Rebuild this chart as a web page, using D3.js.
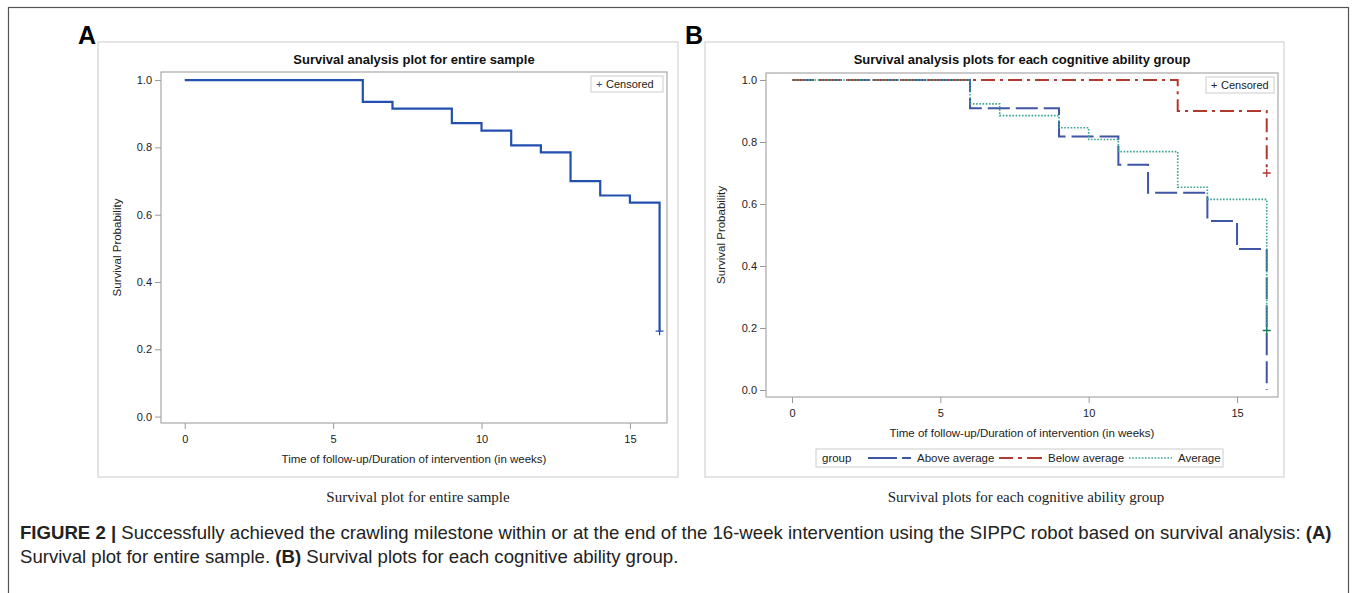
<!DOCTYPE html>
<html>
<head>
<meta charset="utf-8">
<script src="https://cdn.jsdelivr.net/npm/d3@7"></script>
<style>
  body { margin: 0; background: #fff; }
  svg text { font-family: "Liberation Sans", Arial, sans-serif; }
</style>
</head>
<body>
<div id="fig"></div>
<script>
// Panel A: entire sample (Kaplan-Meier steps)
const timesA = [0, 6, 7, 9, 10, 11, 12, 13, 14, 15, 16];
const survA = [1.0, 0.935, 0.915, 0.872, 0.85, 0.806, 0.785, 0.7, 0.657, 0.636, 0.254];
const censorA = [{ t: 16, s: 0.254 }];

// Panel B: per cognitive ability group
const groups = ["Above average", "Below average", "Average"];
const timesAbove = [0, 6, 9, 11, 12, 14, 15, 16];
const survAbove = [1.0, 0.909, 0.818, 0.727, 0.636, 0.545, 0.455, 0.0];
const timesBelow = [0, 13, 16];
const survBelow = [1.0, 0.9, 0.7];
const timesAvg = [0, 6, 7, 9, 10, 11, 13, 14, 16];
const survAvg = [1.0, 0.923, 0.885, 0.846, 0.808, 0.769, 0.654, 0.615, 0.192];
const censorB = [
  { g: "Below average", t: 16, s: 0.7 },
  { g: "Average", t: 16, s: 0.192 },
];

const xTicks = [0, 5, 10, 15];
const yTicks = [0, 0.2, 0.4, 0.6, 0.8, 1.0];

const W = 1357, H = 593;
const svg = d3.select("#fig").append("svg").attr("width", W).attr("height", H);

// outer figure border
svg.append("rect")
  .attr("x", 8.5).attr("y", 7.5).attr("width", 1340).attr("height", 620)
  .attr("fill", "none").attr("stroke", "#555").attr("stroke-width", 1.2);

function zip(ts, ss) {
  return ts.map((t, i) => ({ t: t, s: ss[i] }));
}

function drawPanel(cfg) {
  const g = svg.append("g");

  // panel frame
  g.append("rect")
    .attr("x", cfg.frame[0]).attr("y", cfg.frame[1])
    .attr("width", cfg.frame[2] - cfg.frame[0]).attr("height", cfg.frame[3] - cfg.frame[1])
    .attr("fill", "#fff").attr("stroke", "#dcdcdc").attr("stroke-width", 1.5);

  // panel letter
  g.append("text")
    .attr("x", cfg.frame[0] - 20).attr("y", cfg.frame[1] + 2)
    .style("font-size", "25px").style("font-weight", "bold").attr("fill", "#000")
    .text(cfg.letter);

  const x = d3.scaleLinear().domain(cfg.xDomain).range([cfg.plot[0], cfg.plot[2]]);
  const y = d3.scaleLinear().domain(cfg.yDomain).range([cfg.plot[3], cfg.plot[1]]);

  // title
  g.append("text")
    .attr("x", (cfg.plot[0] + cfg.plot[2]) / 2).attr("y", cfg.frame[1] + 22)
    .attr("text-anchor", "middle")
    .style("font-size", "13px").style("font-weight", "bold").attr("fill", "#111")
    .text(cfg.title);

  // axes
  const xAxis = g.append("g")
    .attr("transform", `translate(0, ${cfg.plot[3]})`)
    .call(d3.axisBottom(x).tickValues(xTicks).tickSize(6).tickPadding(6).tickFormat(d3.format("d")));
  const yAxis = g.append("g")
    .attr("transform", `translate(${cfg.plot[0]}, 0)`)
    .call(d3.axisLeft(y).tickValues(yTicks).tickSize(6).tickPadding(3).tickFormat(d3.format(".1f")));
  [xAxis, yAxis].forEach((a) => {
    a.select(".domain").remove();
    a.selectAll(".tick line").attr("stroke", "#999");
    a.selectAll(".tick text").attr("fill", "#222").style("font-size", "11px")
      .style("font-family", "'Liberation Sans', Arial, sans-serif");
  });

  // plot frame
  g.append("rect")
    .attr("x", cfg.plot[0]).attr("y", cfg.plot[1])
    .attr("width", cfg.plot[2] - cfg.plot[0]).attr("height", cfg.plot[3] - cfg.plot[1])
    .attr("fill", "none").attr("stroke", "#a8a8a8").attr("stroke-width", 1.2);

  // axis titles
  g.append("text")
    .attr("x", (cfg.plot[0] + cfg.plot[2]) / 2).attr("y", cfg.xTitleY)
    .attr("text-anchor", "middle").style("font-size", "11.5px").attr("fill", "#222")
    .text("Time of follow-up/Duration of intervention (in weeks)");
  g.append("text")
    .attr("transform", `translate(${cfg.yTitleX}, ${(cfg.plot[1] + cfg.plot[3]) / 2}) rotate(-90)`)
    .attr("text-anchor", "middle").style("font-size", "11.5px").attr("fill", "#222")
    .text("Survival Probability");

  // step curves
  const line = d3.line().x((d) => x(d.t)).y((d) => y(d.s)).curve(d3.curveStepAfter);
  cfg.series.forEach((s) => {
    g.append("path")
      .datum(s.data)
      .attr("fill", "none")
      .attr("stroke", s.color)
      .attr("stroke-width", s.width)
      .attr("stroke-dasharray", s.dash)
      .attr("d", line);
  });

  // censored marks
  cfg.censored.forEach((c) => {
    const cx = x(c.t), cy = y(c.s);
    g.append("path")
      .attr("d", `M${cx - 4},${cy}H${cx + 4}M${cx},${cy - 4}V${cy + 4}`)
      .attr("stroke", c.color).attr("stroke-width", 1.3);
  });

  // "+ Censored" inset legend
  const lg = g.append("g").attr("transform", `translate(${cfg.plot[2] - 4 - cfg.censW}, ${cfg.plot[1] + 4})`);
  lg.append("rect").attr("width", cfg.censW).attr("height", 16)
    .attr("fill", "#fff").attr("stroke", "#ccc");
  lg.append("text").attr("x", 5).attr("y", 12).style("font-size", "11px").attr("fill", cfg.censColor).text("+");
  lg.append("text").attr("x", 15).attr("y", 12).style("font-size", "11px").attr("fill", "#222").text("Censored");

  return { g: g, x: x, y: y };
}

// panel A
drawPanel({
  letter: "A",
  frame: [98, 42, 678, 477],
  plot: [161, 72, 667, 423],
  xDomain: [-0.8, 16.25],
  yDomain: [-0.019, 1.024],
  title: "Survival analysis plot for entire sample",
  xTitleY: 463,
  yTitleX: 121,
  censW: 72,
  censColor: "#2350b0",
  series: [
    { data: zip(timesA, survA), color: "#2350b0", width: 2.2, dash: null },
  ],
  censored: censorA.map((c) => ({ t: c.t, s: c.s, color: "#2350b0" })),
});

// panel B
const colorB = d3.scaleOrdinal().domain(groups).range(["#3f55a6", "#b03a2e", "#3aa391"]);
const dashB = { "Above average": "22,6", "Below average": "14,5,3,5", "Average": "1.6,1.6" };
const widthB = { "Above average": 2, "Below average": 2, "Average": 1.6 };
const dataB = {
  "Above average": zip(timesAbove, survAbove),
  "Below average": zip(timesBelow, survBelow),
  "Average": zip(timesAvg, survAvg),
};

drawPanel({
  letter: "B",
  frame: [705, 42, 1284, 477],
  plot: [766, 73, 1278, 397],
  xDomain: [-0.876, 16.38],
  yDomain: [-0.0226, 1.0226],
  title: "Survival analysis plots for each cognitive ability group",
  xTitleY: 437,
  yTitleX: 725,
  censW: 68,
  censColor: "#222",
  series: groups.map((k) => ({ data: dataB[k], color: colorB(k), width: widthB[k], dash: dashB[k] })),
  censored: censorB.map((c) => ({ t: c.t, s: c.s, color: c.g === "Average" ? "#137a5f" : colorB(c.g) })),
});

// group legend under panel B
const leg = svg.append("g").attr("transform", "translate(816, 449)");
leg.append("rect").attr("width", 407).attr("height", 18).attr("fill", "#fff").attr("stroke", "#ccc");
leg.append("text").attr("x", 6).attr("y", 13).style("font-size", "11.5px").attr("fill", "#222").text("group");
const legX = [52, 183, 313];
groups.forEach((k, i) => {
  leg.append("line")
    .attr("x1", legX[i]).attr("x2", legX[i] + 43).attr("y1", 9).attr("y2", 9)
    .attr("stroke", colorB(k)).attr("stroke-width", widthB[k])
    .attr("stroke-dasharray", k === "Above average" ? "29,5,10" : k === "Below average" ? "14,5,4,5,16" : dashB[k]);
  leg.append("text").attr("x", legX[i] + 49).attr("y", 13)
    .style("font-size", "11.5px").attr("fill", "#222").text(k);
});

// sub-captions
svg.append("text").attr("x", 418).attr("y", 502).attr("text-anchor", "middle")
  .style("font-family", "'Liberation Serif', 'Times New Roman', serif").style("font-size", "15px")
  .attr("fill", "#222").text("Survival plot for entire sample");
svg.append("text").attr("x", 1026).attr("y", 502).attr("text-anchor", "middle")
  .style("font-family", "'Liberation Serif', 'Times New Roman', serif").style("font-size", "15px")
  .attr("fill", "#222").text("Survival plots for each cognitive ability group");

// figure caption
const cap1 = svg.append("text").attr("x", 20).attr("y", 539).style("font-size", "18.6px").attr("fill", "#222");
cap1.append("tspan").style("font-weight", "bold").text("FIGURE 2 | ");
cap1.append("tspan").text("Successfully achieved the crawling milestone within or at the end of the 16-week intervention using the SIPPC robot based on survival analysis: ");
cap1.append("tspan").style("font-weight", "bold").text("(A)");
const cap2 = svg.append("text").attr("x", 20).attr("y", 563).style("font-size", "18.6px").attr("fill", "#222");
cap2.append("tspan").text("Survival plot for entire sample. ");
cap2.append("tspan").style("font-weight", "bold").text("(B)");
cap2.append("tspan").text(" Survival plots for each cognitive ability group.");
</script>
</body>
</html>
